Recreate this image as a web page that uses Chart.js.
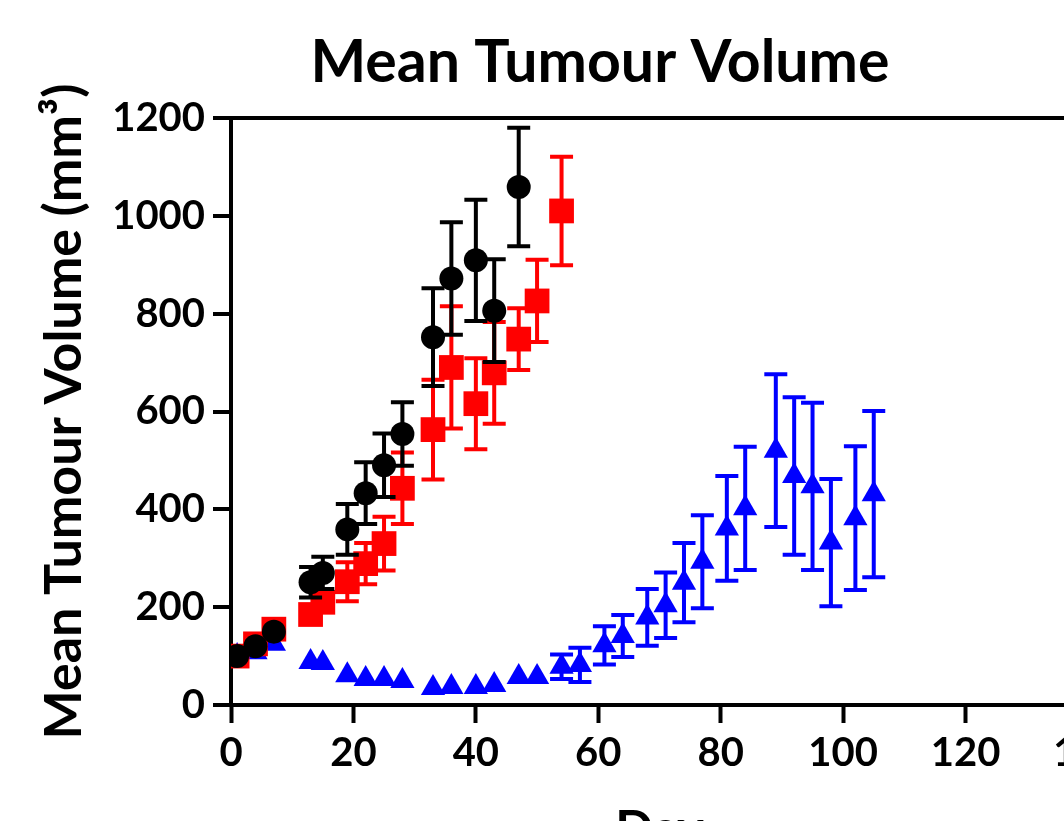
<!DOCTYPE html>
<html>
<head>
<meta charset="utf-8">
<title>Mean Tumour Volume</title>
<script src="https://cdn.jsdelivr.net/npm/chart.js@4.4.1/dist/chart.umd.min.js"></script>
<style>
  html, body { margin: 0; padding: 0; background: #fff; overflow: hidden; }
  #wrap { width: 1200px; height: 880px; }
</style>
</head>
<body>
<div id="wrap"><canvas id="tumourChart" width="1200" height="880"></canvas></div>
<script>
// Values (mean +/- SEM, mm3)
const blackDays = [1, 4, 7, 13, 15, 19, 22, 25, 28, 33, 36, 40, 43, 47];
const blackMean = [100, 120, 150, 251, 270, 359, 433, 490, 554, 752, 872, 909, 806, 1059];
const blackSem  = [8, 10, 10, 31, 33, 52, 63, 65, 65, 100, 115, 124, 105, 121];

const redDays = [1, 4, 7, 13, 15, 19, 22, 25, 28, 33, 36, 40, 43, 47, 50, 54];
const redMean = [100, 125, 155, 185, 210, 252, 289, 330, 443, 563, 690, 616, 679, 748, 826, 1010];
const redSem  = [8, 10, 10, 15, 20, 40, 42, 55, 73, 102, 125, 93, 104, 63, 84, 111];

const blueDays = [1, 4, 7, 13, 15, 19, 22, 25, 28, 33, 36, 40, 43, 47, 50, 54, 57,
                  61, 64, 68, 71, 74, 77, 81, 84, 89, 92, 95, 98, 102, 105];
const blueMean = [100, 108, 125, 88, 86, 61, 53, 53, 49, 35, 37, 37, 41, 57, 57, 78, 82,
                  122, 141, 179, 204, 250, 293, 361, 402, 520, 468, 447, 332, 382, 431];
const blueSem  = [5, 5, 5, 8, 8, 6, 6, 6, 6, 5, 5, 5, 6, 8, 8, 25, 35,
                  39, 43, 58, 67, 81, 95, 107, 126, 156, 161, 171, 130, 147, 170];

const xTicksMax = 140;
const yTicksMax = 1200;
const chartTitle = 'Mean Tumour Volume';

const FONT = 'Lato, "Open Sans", "Liberation Sans", sans-serif';

function makeSet(label, days, mean, sem, color, style, radius) {
    return {
        label: label,
        data: days.map((d, i) => ({ x: d, y: mean[i], sem: sem[i] })),
        backgroundColor: color,
        borderColor: color,
        borderWidth: 0,
        pointStyle: style,
        pointRadius: radius,
        pointHoverRadius: radius,
        showLine: false
    };
}

// draw SEM bars under each group's own markers
const errorBars = {
    id: 'errorBars',
    beforeDatasetDraw(chart, args) {
        const ds = chart.data.datasets[args.index];
        const xs = chart.scales.x;
        const ys = chart.scales.y;
        const ctx = chart.ctx;
        const cap = 11.5;
        ctx.save();
        ctx.strokeStyle = ds.borderColor;
        ctx.lineWidth = 4;
        ctx.lineCap = 'butt';
        ds.data.forEach(p => {
            const px = xs.getPixelForValue(p.x);
            const mid = ys.getPixelForValue(p.y);
            const top = ys.getPixelForValue(p.y + p.sem);
            const bot = ys.getPixelForValue(p.y - p.sem);
            // bars shorter than the symbol stay hidden behind it
            if (mid - top < ds.pointRadius / 2) return;
            ctx.beginPath();
            ctx.moveTo(px, top);
            ctx.lineTo(px, bot);
            ctx.moveTo(px - cap, top);
            ctx.lineTo(px + cap, top);
            ctx.moveTo(px - cap, bot);
            ctx.lineTo(px + cap, bot);
            ctx.stroke();
        });
        ctx.restore();
    }
};

// page title, centred on the whole figure rather than on the layout box
const figureTitle = {
    id: 'figureTitle',
    afterDraw(chart) {
        const ctx = chart.ctx;
        ctx.save();
        ctx.fillStyle = '#000';
        ctx.font = 'bold 59px ' + FONT;
        ctx.textAlign = 'center';
        ctx.textBaseline = 'middle';
        ctx.fillText(chartTitle, chart.width / 2, 63);
        ctx.restore();
    }
};

const ctx = document.getElementById('tumourChart').getContext('2d');
new Chart(ctx, {
    type: 'scatter',
    data: {
        datasets: [
            makeSet('Black', blackDays, blackMean, blackSem, '#000000', 'circle', 12),
            makeSet('Red', redDays, redMean, redSem, '#ff0000', 'rect', 17.5),
            makeSet('Blue', blueDays, blueMean, blueSem, '#0000ff', 'triangle', 14)
        ]
    },
    options: {
        responsive: false,
        devicePixelRatio: 1,
        animation: false,
        layout: { padding: { left: 0, right: 112, top: 118, bottom: 0 } },
        plugins: {
            legend: { display: false },
            tooltip: { enabled: false },
            title: { display: false }
        },
        scales: {
            x: {
                type: 'linear',
                min: 0,
                max: xTicksMax,
                ticks: {
                    stepSize: 20,
                    color: '#000',
                    padding: 6,
                    maxRotation: 0,
                    font: { family: FONT, weight: 'bold', size: 40 }
                },
                grid: {
                    drawOnChartArea: false,
                    tickLength: 18,
                    tickColor: '#000',
                    tickWidth: 4
                },
                border: { color: '#000', width: 4 },
                title: {
                    display: true,
                    text: 'Day',
                    color: '#000',
                    font: { family: FONT, weight: 'bold', size: 50, lineHeight: 1.2 },
                    padding: { top: 0, bottom: 20 }
                },
                afterFit(scale) { scale.height = 880 - 705; }
            },
            y: {
                type: 'linear',
                min: 0,
                max: yTicksMax,
                ticks: {
                    stepSize: 200,
                    color: '#000',
                    padding: 8,
                    callback: v => String(v),
                    font: { family: FONT, weight: 'bold', size: 40 }
                },
                grid: {
                    color: c => (c.tick && c.tick.value === yTicksMax) ? '#000' : 'rgba(0,0,0,0)',
                    lineWidth: 4,
                    tickLength: 18,
                    tickColor: '#000',
                    tickWidth: 4
                },
                border: { color: '#000', width: 4 },
                title: {
                    display: true,
                    text: 'Mean Tumour Volume (mm³)',
                    color: '#000',
                    font: { family: FONT, weight: 'bold', size: 52, lineHeight: 1.2 },
                    padding: { top: 33, bottom: 0 }
                },
                afterFit(scale) { scale.width = 231; }
            }
        }
    },
    plugins: [errorBars, figureTitle]
});
</script>
</body>
</html>
